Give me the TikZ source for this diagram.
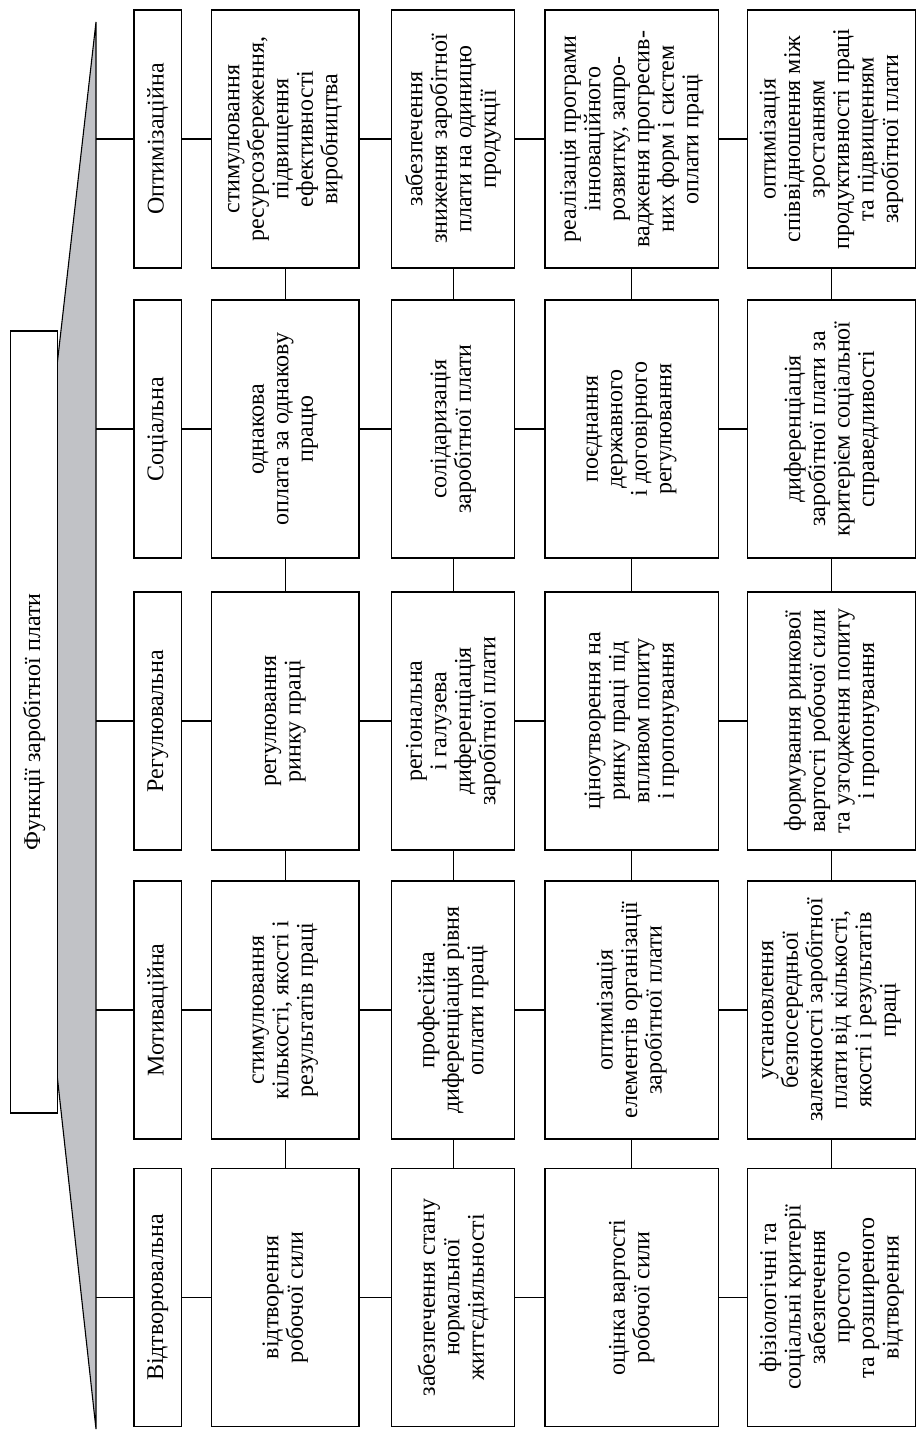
\documentclass[tikz,border=0pt]{standalone}
\usepackage{fontspec}
\setmainfont{Liberation Serif}
\newcommand\myfnt{\fontsize{24}{24.5}\selectfont}
\definecolor{trapgrey}{RGB}{193,194,198}
\begin{document}
\begin{tikzpicture}[x=1pt,y=-1pt,
  box/.style={draw, line width=1.1pt, fill=white, rotate=90, inner sep=0pt, outer sep=0pt,
              align=center, minimum width=258pt, font=\myfnt},
  rowA/.style={box, minimum height=47.5pt},
  rowB/.style={box, minimum height=147.3pt},
  rowC/.style={box, minimum height=123pt},
  rowD/.style={box, minimum height=173.3pt},
  rowE/.style={box, minimum height=167.8pt},
  conn/.style={line width=1.1pt}]
\useasboundingbox (0,0) rectangle (917,1444);
% trapezoid
\draw[line width=1.1pt, fill=trapgrey, line join=miter] (57.3,363) -- (96,22) -- (96,1429) -- (57.3,1077) -- cycle;
% title
\node[box, minimum width=782pt, minimum height=46.6pt] (title) at (34,722) {Функції заробітної плати};
% trapezoid taps
\coordinate (t1) at (96,139);
\coordinate (t2) at (96,429);
\coordinate (t3) at (96,721);
\coordinate (t4) at (96,1010);
\coordinate (t5) at (96,1297.5);
% headers
\node[rowA] (h1) at (157.75,139) {Оптимізаційна};
\node[rowA] (h2) at (157.75,429) {Соціальна};
\node[rowA] (h3) at (157.75,721) {Регулювальна};
\node[rowA] (h4) at (157.75,1010) {Мотиваційна};
\node[rowA] (h5) at (157.75,1297.5) {Відтворювальна};
% row B
\node[rowB] (a1) at (285.35,139) {стимулювання\\ресурсозбереження,\\підвищення\\ефективності\\виробництва};
\node[rowB] (a2) at (285.35,429) {однакова\\оплата за однакову\\працю};
\node[rowB] (a3) at (285.35,721) {регулювання\\ринку праці};
\node[rowB] (a4) at (285.35,1010) {стимулювання\\кількості, якості і\\результатів праці};
\node[rowB] (a5) at (285.35,1297.5) {відтворення\\робочої сили};
% row C
\node[rowC] (b1) at (453.2,139) {забезпечення\\зниження заробітної\\плати на одиницю\\продукції};
\node[rowC] (b2) at (453.2,429) {солідаризація\\заробітної плати};
\node[rowC] (b3) at (453.2,721) {регіональна\\і галузева\\диференціація\\заробітної плати};
\node[rowC] (b4) at (453.2,1010) {професійна\\диференціація рівня\\оплати праці};
\node[rowC] (b5) at (453.2,1297.5) {забезпечення стану\\нормальної\\життєдіяльності};
% row D
\node[rowD] (c1) at (631.65,139) {реалізація програми\\інноваційного\\розвитку, запро-\\вадження прогресив-\\них форм і систем\\оплати праці};
\node[rowD] (c2) at (631.65,429) {поєднання\\державного\\і договірного\\регулювання};
\node[rowD] (c3) at (631.65,721) {ціноутворення на\\ринку праці під\\впливом попиту\\і пропонування};
\node[rowD] (c4) at (631.65,1010) {оптимізація\\елементів організації\\заробітної плати};
\node[rowD] (c5) at (631.65,1297.5) {оцінка вартості\\робочої сили};
% row E
\node[rowE] (d1) at (831.6,139) {оптимізація\\співвідношення між\\зростанням\\продуктивності праці\\та підвищенням\\заробітної плати};
\node[rowE] (d2) at (831.6,429) {диференціація\\заробітної плати за\\критерієм соціальної\\справедливості};
\node[rowE] (d3) at (831.6,721) {формування ринкової\\вартості робочої сили\\та узгодження попиту\\і пропонування};
\node[rowE] (d4) at (831.6,1010) {установлення\\безпосередньої\\залежності заробітної\\плати від кількості,\\якості і результатів\\праці};
\node[rowE] (d5) at (831.6,1297.5) {фізіологічні та\\соціальні критерії\\забезпечення\\простого\\та розширеного\\відтворення};
% horizontal connectors (page left-right)
\foreach \i in {1,...,5}{
  \draw[conn] (t\i) -- (h\i.north);
  \draw[conn] (h\i.south) -- (a\i.north);
  \draw[conn] (a\i.south) -- (b\i.north);
  \draw[conn] (b\i.south) -- (c\i.north);
  \draw[conn] (c\i.south) -- (d\i.north);
}
% vertical connectors within rows
\foreach \i/\j in {1/2,2/3,3/4,4/5}{
  \draw[conn] (a\i.west) -- (a\j.east);
  \draw[conn] (b\i.west) -- (b\j.east);
  \draw[conn] (c\i.west) -- (c\j.east);
  \draw[conn] (d\i.west) -- (d\j.east);
}
\end{tikzpicture}
\end{document}
